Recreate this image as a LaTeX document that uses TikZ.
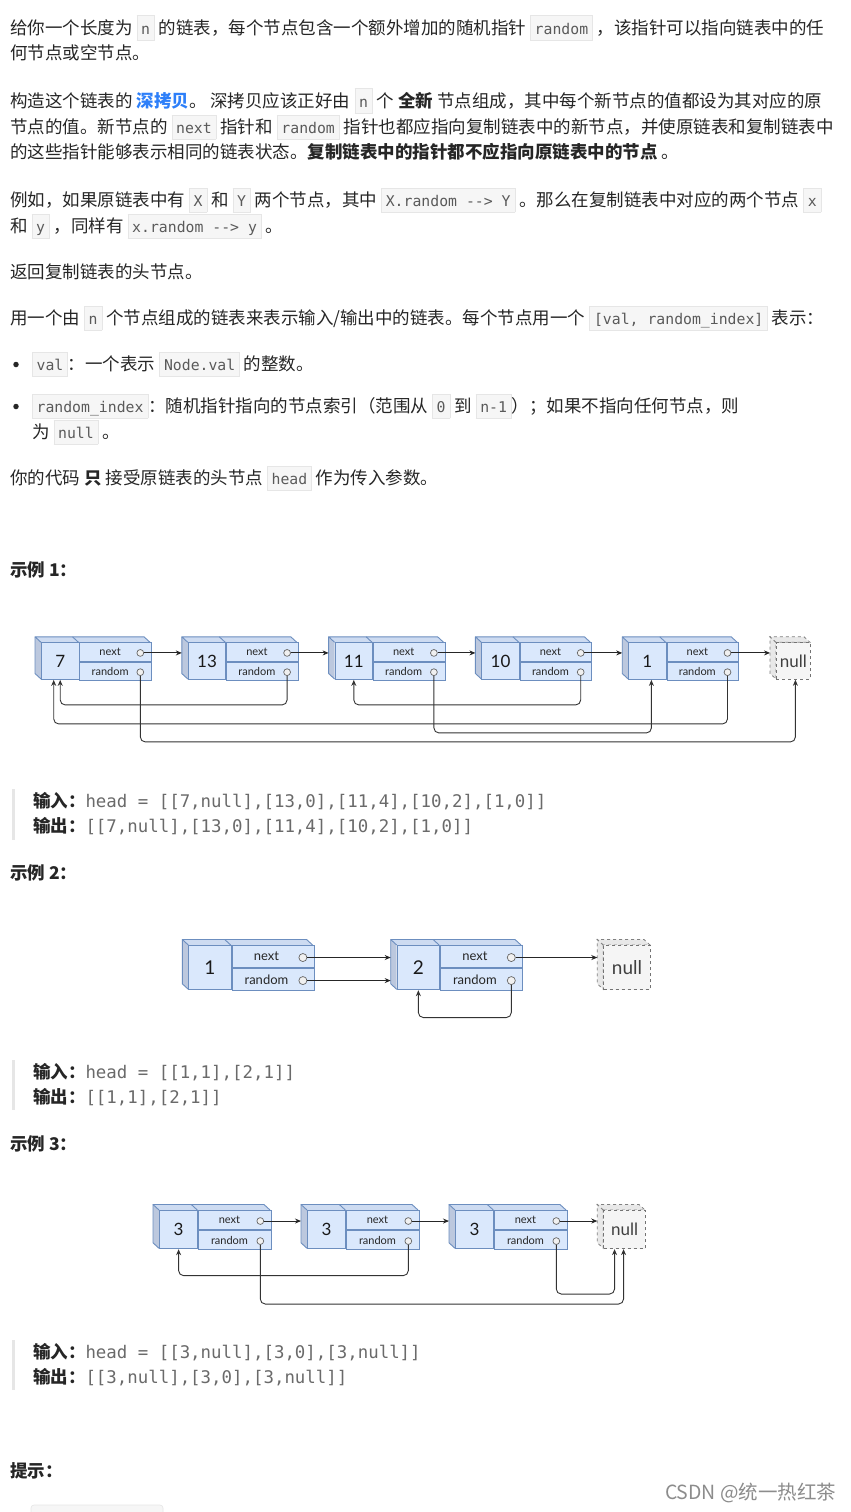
\documentclass[tikz,border=0pt]{standalone}
\usepackage{fontspec}
\usetikzlibrary{arrows.meta}
\newfontfamily\cjk{Noto Sans CJK SC}
\setmonofont{DejaVu Sans Mono}
\newfontfamily\dfont{Lato}
\definecolor{textc}{HTML}{262626}
\definecolor{linkblue}{HTML}{2D7FF9}
\definecolor{codebg}{HTML}{F6F6F6}
\definecolor{codebd}{HTML}{E6E6E6}
\definecolor{codefg}{HTML}{5A5A5A}
\definecolor{blockfg}{HTML}{6A6A6A}
\definecolor{barc}{HTML}{E6E6E6}
\definecolor{nodefill}{HTML}{DAE8FC}
\definecolor{nodeline}{HTML}{6C8EBF}
\definecolor{sidec}{HTML}{BCC8DE}
\definecolor{topc}{HTML}{CDDBF1}
\definecolor{nullc}{HTML}{F5F5F5}
\definecolor{nullside}{HTML}{E8E8E8}

\newcommand\ks{\hspace{4pt}}
\newcommand\ic[1]{{\setlength\fboxsep{0pt}\setlength\fboxrule{0.6pt}\fcolorbox{codebd}{codebg}{\rule[-5.5pt]{0pt}{24pt}\hspace{4pt}{\ttfamily\fontsize{14.8}{16}\selectfont\color{codefg}#1}\hspace{4pt}}}}
\newcommand\bc[1]{{\ttfamily\fontsize{17.4}{20}\selectfont\color{blockfg}#1}}

\tikzset{
  txt/.style={anchor=base west, inner sep=0pt, outer sep=0pt, text=textc, font=\cjk\fontsize{17.5}{20}\selectfont},
  bulletdot/.style={circle, fill=textc, minimum size=5.5pt, inner sep=0pt},
  frontbox/.style={draw=nodeline, fill=nodefill, line width=0.9pt, inner sep=0pt, text=black!90},
  lbl/.style={inner sep=0pt, text=black!85},
  portc/.style={circle, draw=black!60, fill=black!6, line width=0.7pt, inner sep=0pt},
  sideface/.style={fill=sidec},
  topface/.style={fill=topc},
  edgeln/.style={draw=nodeline, line width=0.9pt, line join=round},
  nxt/.style={draw=black!85, line width=0.9pt, -{Stealth[length=6pt,width=5pt]}},
  rnd/.style={draw=black!80, line width=0.9pt, rounded corners=5pt, -{Stealth[length=6pt,width=5pt]}},
  nullbox/.style={draw=black!55, dashed, fill=nullc, line width=0.8pt, inner sep=0pt, text=black!75},
  nullface/.style={draw=black!50, dashed, fill=nullside, line width=0.8pt},
}

% #1 name #2 x #3 y #4 w #5 h #6 value width #7 value #8 small font #9 big font
\newcommand\lnode[9]{%
  \fill[sideface] (#2,#3) -- ++(-6,-5.5) -- ++(0,#5) -- ++(6,5.5) -- cycle;
  \fill[topface] (#2,#3) -- ++(-6,-5.5) -- ++(#4,0) -- ++(6,5.5) -- cycle;
  \draw[edgeln] (#2,#3) -- ++(-6,-5.5) -- ++(#4,0) -- ++(6,5.5);
  \draw[edgeln] (#2-6,#3-5.5) -- ++(0,#5) -- ++(6,5.5);
  \draw[edgeln] (#2+#6,#3) -- ++(-6,-5.5);
  \node[frontbox, minimum width=#6, minimum height=#5, anchor=north west,
        font=\dfont\fontsize{#9}{#9}\selectfont] (#1) at (#2,#3) {#7};
  \node[frontbox, minimum width=#4-#6, minimum height=#5/2, anchor=north west] (#1-nc) at (#1.north east) {};
  \node[frontbox, minimum width=#4-#6, minimum height=#5/2, anchor=north west] (#1-rl) at (#1-nc.south west) {};
  \node[lbl, font=\dfont\fontsize{#8}{#8}\selectfont] (#1-nt) at ([xshift=-#8/2]#1-nc.center) {next};
  \node[lbl, font=\dfont\fontsize{#8}{#8}\selectfont] (#1-rt) at ([xshift=-#8/2]#1-rl.center) {random};
  \node[portc, minimum size=#8*0.62] (#1-nx) at ([xshift=-11.5pt,yshift=-1pt]#1-nc.east) {};
  \node[portc, minimum size=#8*0.62] (#1-rc) at ([xshift=-11.5pt,yshift=-1pt]#1-rl.east) {};
  \coordinate (#1-in) at (#2-6,#3+#5/4);
}
% #1 name #2 x #3 y #4 w #5 h #6 font
\newcommand\nnode[6]{%
  \filldraw[nullface] (#2,#3) -- ++(-6,-5.5) -- ++(0,#5) -- ++(6,5.5) -- cycle;
  \filldraw[nullface] (#2,#3) -- ++(-6,-5.5) -- ++(#4,0) -- ++(6,5.5) -- cycle;
  \node[nullbox, minimum width=#4, minimum height=#5, anchor=north west,
        font=\dfont\fontsize{#6}{#6}\selectfont] (#1) at (#2,#3) {null};
  \coordinate (#1-in) at (#2-6,#3+#5/4);
}

\begin{document}
\begin{tikzpicture}[x=1pt, y=-1pt]
\fill[white] (0,0) rectangle (851,1512);
\useasboundingbox (0,0) rectangle (851,1512);

% ---------- description text ----------
\node[txt] (t1) at (10,34.6) {给你一个长度为\ks\ic{n}\ks 的链表，每个节点包含一个额外增加的随机指针\ks\ic{random}\ks，该指针可以指向链表中的任};
\node[txt] (t2) at (10,59.6) {何节点或空节点。};
\node[txt] (t3) at (10,107.6) {构造这个链表的\ks{\bfseries\color{linkblue}深拷贝}。\ks 深拷贝应该正好由\ks\ic{n}\ks 个\ks{\bfseries 全新}\ks 节点组成，其中每个新节点的值都设为其对应的原};
\node[txt] (t4) at (10,133.6) {节点的值。新节点的\ks\ic{next}\ks 指针和\ks\ic{random}\ks 指针也都应指向复制链表中的新节点，并使原链表和复制链表中};
\node[txt] (t5) at (10,158.6) {的这些指针能够表示相同的链表状态。{\bfseries 复制链表中的指针都不应指向原链表中的节点}\ks。};
\node[txt] (t6) at (10,206.6) {例如，如果原链表中有\ks\ic{X}\ks 和\ks\ic{Y}\ks 两个节点，其中\ks\ic{X.random --> Y}\ks。那么在复制链表中对应的两个节点\ks\ic{x}};
\node[txt] (t7) at (10,232.6) {和\ks\ic{y}\ks，同样有\ks\ic{x.random --> y}\ks。};
\node[txt] (t8) at (10,278.6) {返回复制链表的头节点。};
\node[txt] (t9) at (10,324.6) {用一个由\ks\ic{n}\ks 个节点组成的链表来表示输入/输出中的链表。每个节点用一个\ks\ic{[val, random\_index]}\ks 表示：};
\node[bulletdot] (bul1) at (16,364.5) {};
\node[txt] (t10) at (32,370.6) {\ic{val}：一个表示\ks\ic{Node.val}\ks 的整数。};
\node[bulletdot] (bul2) at (16,406.5) {};
\node[txt] (t11) at (32,412.6) {\ic{random\_index}：随机指针指向的节点索引（范围从\ks\ic{0}\ks 到\ks\ic{n-1}）；如果不指向任何节点，则};
\node[txt] (t12) at (32,438.6) {为\ks\ic{null}\ks。};
\node[txt] (t13) at (10,484.6) {你的代码\ks{\bfseries 只}\ks 接受原链表的头节点\ks\ic{head}\ks 作为传入参数。};

% ---------- example 1 ----------
\node[txt, font=\cjk\bfseries\fontsize{17.5}{20}\selectfont] (h1) at (10,576.6) {示例 1：};

\lnode{a1}{41}{642.3}{109}{36.7}{37.5}{7}{11}{17}
\lnode{a2}{187.8}{642.3}{109}{36.7}{37.5}{13}{11}{17}
\lnode{a3}{334.6}{642.3}{109}{36.7}{37.5}{11}{11}{17}
\lnode{a4}{481.4}{642.3}{109}{36.7}{37.5}{10}{11}{17}
\lnode{a5}{628.2}{642.3}{109}{36.7}{37.5}{1}{11}{17}
\nnode{a6}{776}{642.3}{34}{36.7}{17}

\draw[nxt] (a1-nx.east) -- (a1-nx.east -| a2-in);
\draw[nxt] (a2-nx.east) -- (a2-nx.east -| a3-in);
\draw[nxt] (a3-nx.east) -- (a3-nx.east -| a4-in);
\draw[nxt] (a4-nx.east) -- (a4-nx.east -| a5-in);
\draw[nxt] (a5-nx.east) -- (a5-nx.east -| a6-in);
\draw[rnd] (a1-rc.south) -- ++(0,66) -| ([xshift=2pt]a6.south);
\draw[rnd] (a2-rc.south) -- ++(0,29) -| (a1.south);
\draw[rnd] (a3-rc.south) -- ++(0,57) -| ([xshift=4pt]a5.south);
\draw[rnd] (a4-rc.south) -- ++(0,29) -| (a3.south);
\draw[rnd] (a5-rc.south) -- ++(0,48) -| ([xshift=-6.5pt]a1.south);

\fill[barc] (12,789) rectangle (15,840);
\node[txt] (in1) at (33,807.6) {{\bfseries 输入：}\bc{head = [[7,null],[13,0],[11,4],[10,2],[1,0]]}};
\node[txt] (out1) at (33,832.6) {{\bfseries 输出：}\bc{[[7,null],[13,0],[11,4],[10,2],[1,0]]}};

% ---------- example 2 ----------
\node[txt, font=\cjk\bfseries\fontsize{17.5}{20}\selectfont] (h2) at (10,879.6) {示例 2：};

\lnode{b1}{188.3}{945}{124.3}{44.3}{42.4}{1}{13}{19}
\lnode{b2}{396.7}{945}{124.3}{44.3}{42.4}{2}{13}{19}
\nnode{b3}{603.3}{945}{46.7}{44.3}{19}

\draw[nxt] (b1-nx.east) -- (b1-nx.east -| b2-in);
\draw[nxt] (b1-rc.east) -- (b1-rc.east -| b2-in);
\draw[nxt] (b2-nx.east) -- (b2-nx.east -| b3-in);
\draw[rnd] (b2-rc.south) -- ++(0,32.6) -| (b2.south);

\fill[barc] (12,1060) rectangle (15,1110);
\node[txt] (in2) at (33,1078.6) {{\bfseries 输入：}\bc{head = [[1,1],[2,1]]}};
\node[txt] (out2) at (33,1103.6) {{\bfseries 输出：}\bc{[[1,1],[2,1]]}};

% ---------- example 3 ----------
\node[txt, font=\cjk\bfseries\fontsize{17.5}{20}\selectfont] (h3) at (10,1150.6) {示例 3：};

\lnode{c1}{159}{1210}{111}{38.3}{38.3}{3}{11}{17}
\lnode{c2}{307}{1210}{111}{38.3}{38.3}{3}{11}{17}
\lnode{c3}{455}{1210}{111}{38.3}{38.3}{3}{11}{17}
\nnode{c4}{603.3}{1210}{41.7}{38.3}{17}

\draw[nxt] (c1-nx.east) -- (c1-nx.east -| c2-in);
\draw[nxt] (c2-nx.east) -- (c2-nx.east -| c3-in);
\draw[nxt] (c3-nx.east) -- (c3-nx.east -| c4-in);
\draw[rnd] (c1-rc.south) -- ++(0,59.2) -| ([xshift=-1pt]c4.south);
\draw[rnd] (c2-rc.south) -- ++(0,30.8) -| (c1.south);
\draw[rnd] (c3-rc.south) -- ++(0,49.2) -| ([xshift=-10pt]c4.south);

\fill[barc] (12,1340) rectangle (15,1390);
\node[txt] (in3) at (33,1358.6) {{\bfseries 输入：}\bc{head = [[3,null],[3,0],[3,null]]}};
\node[txt] (out3) at (33,1383.6) {{\bfseries 输出：}\bc{[[3,null],[3,0],[3,null]]}};

% ---------- hints ----------
\node[txt, font=\cjk\bfseries\fontsize{17.5}{20}\selectfont] (h4) at (10,1477.6) {提示：};
\draw[codebd, fill=codebg, line width=0.6pt, rounded corners=3pt] (31,1505) rectangle (163,1530);
\node[txt, text=black!45, font=\cjk\fontsize{19.5}{22}\selectfont] (wm) at (665,1499) {CSDN @统一热红茶};
\end{tikzpicture}
\end{document}
